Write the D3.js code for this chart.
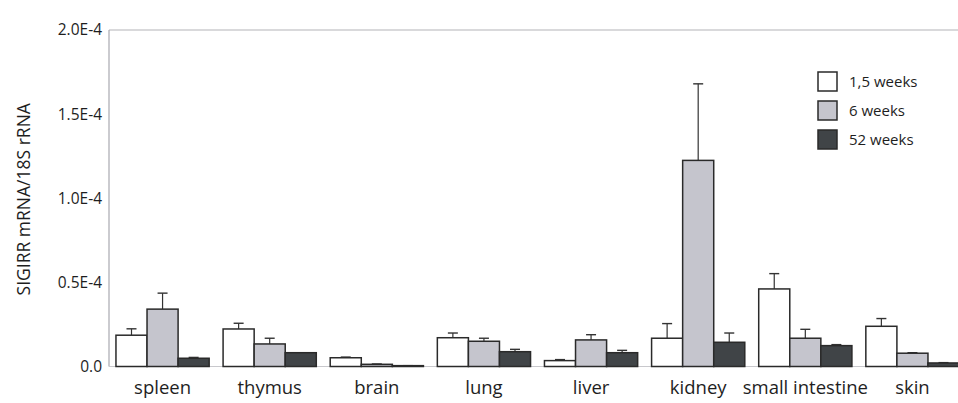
<!DOCTYPE html>
<html>
<head>
<meta charset="utf-8">
<script src="https://cdn.jsdelivr.net/npm/d3@7"></script>
<style>
  body { margin: 0; background: #fff; }
  text { font-family: "Open Sans", "Noto Sans", sans-serif; fill: #1e1e1e; }
</style>
</head>
<body>
<div class="viz"></div>
<script>
var tissues = ["spleen", "thymus", "brain", "lung", "liver", "kidney", "small intestine", "skin"];
var series = ["1,5 weeks", "6 weeks", "52 weeks"];
var colors = ["#ffffff", "#c5c5cd", "#404447"];

// mean values per series (same order as tissues)
var week1_5 = [1.86e-5, 2.23e-5, 0.52e-5, 1.71e-5, 0.35e-5, 1.68e-5, 4.61e-5, 2.39e-5];
var week6 = [3.41e-5, 1.34e-5, 0.13e-5, 1.50e-5, 1.58e-5, 12.25e-5, 1.68e-5, 0.79e-5];
var week52 = [0.49e-5, 0.82e-5, 0.05e-5, 0.88e-5, 0.82e-5, 1.44e-5, 1.24e-5, 0.21e-5];

// top of error bar
var err1_5 = [2.24e-5, 2.57e-5, 0.56e-5, 1.99e-5, 0.41e-5, 2.55e-5, 5.52e-5, 2.85e-5];
var err6 = [4.36e-5, 1.68e-5, 0.15e-5, 1.68e-5, 1.89e-5, 16.8e-5, 2.21e-5, 0.82e-5];
var err52 = [0.54e-5, 0.82e-5, 0.05e-5, 1.02e-5, 0.96e-5, 1.99e-5, 1.30e-5, 0.23e-5];

var yTicks = [0, 0.5e-4, 1.0e-4, 1.5e-4, 2.0e-4];
var yTickLabels = ["0.0", "0.5E-4", "1.0E-4", "1.5E-4", "2.0E-4"];

var means = [week1_5, week6, week52];
var errs = [err1_5, err6, err52];

var width = 958, height = 403;
var margin = { top: 30, left: 109, bottom: 36 };

var svg = d3.select(".viz").append("svg")
  .attr("width", width)
  .attr("height", height);

var x = d3.scaleBand()
  .domain(tissues)
  .range([margin.left, 966])
  .paddingInner(0.13)
  .paddingOuter(0.065);

var xs = d3.scaleBand()
  .domain(series)
  .range([0, x.bandwidth()]);

var y = d3.scaleLinear()
  .domain([0, 2e-4])
  .range([height - margin.bottom - 0.5, margin.top]);

// frame: left axis, top line, baseline
svg.append("line")
  .attr("x1", margin.left).attr("x2", width)
  .attr("y1", y(2e-4)).attr("y2", y(2e-4))
  .attr("stroke", "#b4b4b8").attr("stroke-width", 1.2);
svg.append("line")
  .attr("x1", margin.left).attr("x2", margin.left)
  .attr("y1", y(2e-4)).attr("y2", y(0))
  .attr("stroke", "#a8a8b0").attr("stroke-width", 1.2);
svg.append("line")
  .attr("x1", margin.left).attr("x2", width)
  .attr("y1", y(0)).attr("y2", y(0))
  .attr("stroke", "#c8c8cc").attr("stroke-width", 1);

// y tick labels
svg.append("g")
  .selectAll("text")
  .data(yTicks)
  .enter()
  .append("text")
  .attr("x", 102)
  .attr("y", function (d) { return y(d); })
  .attr("dy", "0.35em")
  .attr("text-anchor", "end")
  .style("font-size", "15.5px")
  .text(function (d, i) { return yTickLabels[i]; });

svg.append("text")
  .attr("transform", "translate(30," + (y(1e-4) + 1) + ")rotate(-90)")
  .attr("text-anchor", "middle")
  .style("font-size", "17.5px")
  .text("SIGIRR mRNA/18S rRNA");

// bars
var groups = svg.append("g")
  .selectAll("g")
  .data(tissues)
  .enter()
  .append("g")
  .attr("transform", function (d) { return "translate(" + x(d) + ",0)"; });

series.forEach(function (s, si) {
  // error bars first so bars sit on top
  groups.append("line")
    .attr("x1", xs(s) + xs.bandwidth() / 2)
    .attr("x2", xs(s) + xs.bandwidth() / 2)
    .attr("y1", function (d, i) { return y(means[si][i]); })
    .attr("y2", function (d, i) { return y(errs[si][i]); })
    .attr("stroke", "#333").attr("stroke-width", 1.2);
  groups.append("line")
    .attr("x1", xs(s) + xs.bandwidth() / 2 - 5)
    .attr("x2", xs(s) + xs.bandwidth() / 2 + 5)
    .attr("y1", function (d, i) { return y(errs[si][i]); })
    .attr("y2", function (d, i) { return y(errs[si][i]); })
    .attr("stroke", "#333").attr("stroke-width", 1.4);
  groups.append("rect")
    .attr("x", xs(s))
    .attr("width", xs.bandwidth())
    .attr("y", function (d, i) { return y(means[si][i]); })
    .attr("height", function (d, i) { return y(0) - y(means[si][i]); })
    .attr("fill", colors[si])
    .attr("stroke", "#2a2a2a")
    .attr("stroke-width", 1.5);
});

// x labels
svg.append("g")
  .selectAll("text")
  .data(tissues)
  .enter()
  .append("text")
  .attr("x", function (d) { return x(d) + x.bandwidth() / 2; })
  .attr("y", 394)
  .attr("text-anchor", "middle")
  .style("font-size", "18.5px")
  .text(function (d) { return d; });

// legend
var legend = svg.append("g")
  .selectAll("g")
  .data(series)
  .enter()
  .append("g")
  .attr("transform", function (d, i) { return "translate(818," + (72 + i * 29) + ")"; });
legend.append("rect")
  .attr("width", 19).attr("height", 19)
  .attr("fill", function (d, i) { return colors[i]; })
  .attr("stroke", "#2a2a2a").attr("stroke-width", 1.5);
legend.append("text")
  .attr("x", 31).attr("y", 10)
  .attr("dy", "0.35em")
  .style("font-size", "15px")
  .text(function (d) { return d; });
</script>
</body>
</html>
